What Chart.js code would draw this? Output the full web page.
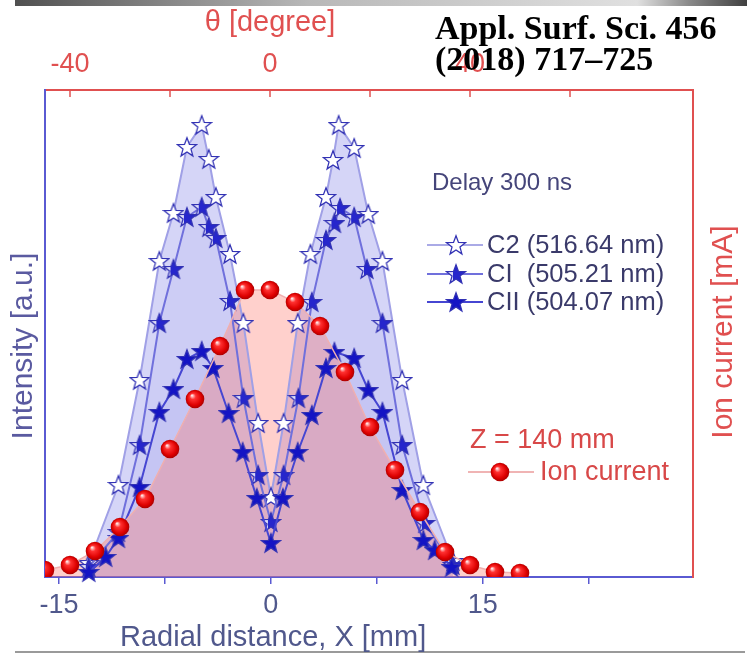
<!DOCTYPE html>
<html>
<head>
<meta charset="utf-8">
<title>Delay 300 ns - C2 / CI / CII and ion current</title>
<script src="https://cdn.jsdelivr.net/npm/chart.js"></script>
<style>
    body { margin: 0; background: #fff; }
</style>
</head>
<body>
<canvas id="myChart" width="747" height="661"></canvas>
<script>
// values: radial distance in mm, intensity in a.u.
var c2X  = [-12.9, -10.8, -9.3, -7.9, -6.9, -5.95, -4.9, -4.4, -3.9, -2.9, -1.95, -0.9, 0, 0.9, 1.9, 2.8, 3.9, 4.4, 4.8, 5.9, 6.9, 7.9, 9.3, 10.8, 12.9];
var c2Y  = [14, 92, 197, 316, 364, 430, 452, 418, 380, 323, 254, 154, 80, 154, 254, 323, 380, 417, 452, 429, 363, 316, 197, 92, 16];

var ciX  = [-12.9, -10.8, -9.3, -7.9, -6.9, -5.95, -4.9, -4.4, -3.9, -2.9, -1.95, -0.9, 0, 0.9, 1.95, 2.9, 3.9, 4.5, 4.9, 5.9, 6.8, 7.9, 9.3, 10.9, 12.9];
var ciY  = [10, 45, 132, 254, 308, 360, 370, 350, 339, 276, 179, 102, 55, 102, 179, 275, 337, 354, 369, 360, 308, 254, 132, 54, 12];

var ciiX = [-12.9, -11.7, -10.8, -9.3, -7.9, -6.9, -5.95, -4.9, -4.1, -3.0, -2.0, -1.0, 0, 0.85, 1.9, 2.9, 3.9, 4.5, 5.9, 6.9, 7.9, 9.3, 10.8, 11.6, 12.8];
var ciiY = [5, 20, 39, 90, 165, 188, 218, 226, 209, 164, 125, 79, 34, 79, 125, 162, 209, 225, 219, 187, 165, 87, 37, 27, 10];

// ion current, plotted against the angle theta in degree (top axis)
var ionTheta = [-45, -40, -35, -30, -25, -20, -15, -10, -5, 0, 5, 10, 15, 20, 25, 30, 35, 40, 45, 50];
var ionY     = [7, 12, 26, 50, 78, 128, 178, 231, 287, 287, 275, 251, 205, 150, 107, 65, 25, 12, 5, 4];

var xTicks      = [-15, -7.5, 0, 7.5, 15, 22.5];
var xLabels     = [-15, 0, 15];
var thetaTicks  = [-40, -20, 0, 20, 40, 60];
var thetaLabels = [-40, 0, 40];

var BLUE = '#5a5ad2';
var RED  = '#e05050';

function pts(xs, ys) {
    return xs.map(function (x, i) { return { x: x, y: ys[i] }; });
}

function starPath(g, cx, cy, R, r) {
    g.beginPath();
    for (var i = 0; i < 10; i++) {
        var a = -Math.PI / 2 + i * Math.PI / 5;
        var rad = (i % 2) ? r : R;
        g.lineTo(cx + rad * Math.cos(a), cy + rad * Math.sin(a));
    }
    g.closePath();
}

function makeStar(kind) {
    var c = document.createElement('canvas');
    c.width = 22; c.height = 22;
    var g = c.getContext('2d');
    starPath(g, 11, 11.8, 10, 4.2);
    if (kind === 'open') {
        g.fillStyle = '#ffffff';
        g.fill();
    } else if (kind === 'half') {
        g.fillStyle = '#2626cc';
        g.fill();
        g.save();
        g.clip();
        g.fillStyle = 'rgba(255,255,255,0.85)';
        g.fillRect(0, 0, 8, 22);
        g.restore();
    } else {
        g.fillStyle = '#1414c4';
        g.fill();
    }
    starPath(g, 11, 11.8, 10, 4.2);
    g.lineWidth = 1.3;
    g.strokeStyle = '#3232b4';
    g.stroke();
    return c;
}

function makeBall() {
    var c = document.createElement('canvas');
    c.width = 20; c.height = 20;
    var g = c.getContext('2d');
    var grad = g.createRadialGradient(7, 6.5, 0.5, 10, 10, 9.5);
    grad.addColorStop(0, '#ffe0e0');
    grad.addColorStop(0.28, '#ff3030');
    grad.addColorStop(0.75, '#dd0000');
    grad.addColorStop(1, '#a80000');
    g.fillStyle = grad;
    g.beginPath();
    g.arc(10, 10, 9.3, 0, 2 * Math.PI);
    g.fill();
    return c;
}

var starOpen = makeStar('open');
var starHalf = makeStar('half');
var starFull = makeStar('full');
var ball = makeBall();

// titles, legend boxes, inward top ticks and the citation
var decor = {
    id: 'decor',
    beforeDraw: function (chart) {
        var ctx = chart.ctx;
        ctx.save();
        var gr = ctx.createLinearGradient(15, 0, 747, 0);
        gr.addColorStop(0, '#505050');
        gr.addColorStop(0.4, '#b8b8b8');
        gr.addColorStop(0.85, '#e0e0e0');
        gr.addColorStop(0.92, '#8a8a8a');
        gr.addColorStop(1, '#404040');
        ctx.fillStyle = gr;
        ctx.fillRect(15, 0, 732, 6);
        ctx.fillStyle = '#9a9a9a';
        ctx.fillRect(15, 651, 730, 2);
        ctx.restore();
    },
    afterDraw: function (chart) {
        var ctx = chart.ctx;
        var area = chart.chartArea;
        var top = chart.scales.xTop;
        ctx.save();

        ctx.strokeStyle = RED;
        ctx.lineWidth = 1.5;
        thetaTicks.forEach(function (t) {
            var px = top.getPixelForValue(t);
            ctx.beginPath();
            ctx.moveTo(px, area.top);
            ctx.lineTo(px, area.top + 7);
            ctx.stroke();
        });

        ctx.textBaseline = 'alphabetic';
        ctx.font = '29px "Liberation Sans", Arial, sans-serif';
        ctx.fillStyle = RED;
        ctx.textAlign = 'center';
        ctx.fillText('\u03b8 [degree]', 270, 31);

        ctx.fillStyle = '#50588c';
        ctx.textAlign = 'left';
        ctx.fillText('Radial distance, X [mm]', 120, 646);

        ctx.font = '30px "Liberation Sans", Arial, sans-serif';
        ctx.textAlign = 'center';
        ctx.save();
        ctx.translate(32, 346);
        ctx.rotate(-Math.PI / 2);
        ctx.fillStyle = '#5a5aa0';
        ctx.fillText('Intensity [a.u.]', 0, 0);
        ctx.restore();
        ctx.save();
        ctx.translate(732, 332);
        ctx.rotate(-Math.PI / 2);
        ctx.fillStyle = RED;
        ctx.fillText('Ion current [mA]', 0, 0);
        ctx.restore();

        // legend for the emission lines
        ctx.textAlign = 'left';
        ctx.font = '24px "Liberation Sans", Arial, sans-serif';
        ctx.fillStyle = '#45457a';
        ctx.fillText('Delay 300 ns', 432, 190);

        var rows = [
            { y: 245, color: '#aaaae6', img: starOpen, text: 'C2 (516.64 nm)' },
            { y: 274, color: '#7070dc', img: starHalf, text: 'CI  (505.21 nm)' },
            { y: 302, color: '#4646d2', img: starFull, text: 'CII (504.07 nm)' }
        ];
        ctx.font = '25.5px "Liberation Sans", Arial, sans-serif';
        ctx.textBaseline = 'middle';
        rows.forEach(function (r) {
            ctx.strokeStyle = r.color;
            ctx.lineWidth = 2;
            ctx.beginPath();
            ctx.moveTo(427, r.y);
            ctx.lineTo(483, r.y);
            ctx.stroke();
            ctx.drawImage(r.img, 456 - 11, r.y - 11);
            ctx.fillStyle = '#3a3a6a';
            ctx.fillText(r.text, 487, r.y + 1);
        });

        // legend for the ion current
        ctx.font = '27px "Liberation Sans", Arial, sans-serif';
        ctx.fillStyle = '#d84848';
        ctx.textBaseline = 'alphabetic';
        ctx.fillText('Z = 140 mm', 470, 448);
        ctx.strokeStyle = '#f0b4b4';
        ctx.lineWidth = 2;
        ctx.beginPath();
        ctx.moveTo(468, 472);
        ctx.lineTo(534, 472);
        ctx.stroke();
        ctx.drawImage(ball, 490, 462);
        ctx.textBaseline = 'middle';
        ctx.fillStyle = '#d84848';
        ctx.fillText('Ion current', 540, 473);

        // citation
        ctx.textBaseline = 'alphabetic';
        ctx.fillStyle = '#000000';
        ctx.font = 'bold 34px "Liberation Serif", "Times New Roman", serif';
        ctx.fillText('Appl. Surf. Sci. 456', 435, 39);
        ctx.fillText('(2018) 717\u2013725', 435, 70);
        ctx.restore();
    }
};

Chart.defaults.font.family = '"Liberation Sans", Arial, sans-serif';

var ctx = document.getElementById('myChart').getContext('2d');
var myChart = new Chart(ctx, {
    type: 'line',
    data: {
        datasets: [{
            label: 'Ion current',
            data: pts(ionTheta, ionY),
            xAxisID: 'xTop',
            yAxisID: 'yRight',
            borderColor: '#f0b0b0',
            borderWidth: 1.5,
            backgroundColor: 'rgba(255,120,110,0.35)',
            fill: 'origin',
            pointStyle: ball,
            clip: 0
        }, {
            label: 'CII (504.07 nm)',
            data: pts(ciiX, ciiY),
            xAxisID: 'x',
            yAxisID: 'y',
            borderColor: '#4646d2',
            borderWidth: 2,
            backgroundColor: 'rgba(100,100,225,0.07)',
            fill: 'origin',
            pointStyle: starFull,
            clip: 12
        }, {
            label: 'CI (505.21 nm)',
            data: pts(ciX, ciY),
            xAxisID: 'x',
            yAxisID: 'y',
            borderColor: '#7070dc',
            borderWidth: 2,
            backgroundColor: 'rgba(100,100,225,0.07)',
            fill: 'origin',
            pointStyle: starHalf,
            clip: 12
        }, {
            label: 'C2 (516.64 nm)',
            data: pts(c2X, c2Y),
            xAxisID: 'x',
            yAxisID: 'y',
            borderColor: '#a0a0e6',
            borderWidth: 2,
            backgroundColor: 'rgba(100,100,225,0.27)',
            fill: 'origin',
            pointStyle: starOpen,
            clip: 12
        }]
    },
    options: {
        responsive: false,
        animation: false,
        events: [],
        layout: { padding: 0 },
        elements: { line: { tension: 0 } },
        plugins: {
            legend: { display: false },
            tooltip: { enabled: false },
            filler: { drawTime: 'beforeDatasetsDraw' }
        },
        scales: {
            x: {
                type: 'linear',
                position: 'bottom',
                min: -16,
                max: 29.9,
                afterBuildTicks: function (axis) {
                    axis.ticks = xTicks.map(function (v) { return { value: v }; });
                },
                afterFit: function (s) { s.height = 84; },
                ticks: {
                    padding: 5,
                    maxRotation: 0,
                    autoSkip: false,
                    color: '#50588c',
                    font: { size: 27 },
                    callback: function (v) { return xLabels.indexOf(v) >= 0 ? String(v) : ''; }
                },
                grid: { drawOnChartArea: false, tickLength: 7, color: BLUE, lineWidth: 1.5 },
                border: { color: BLUE, width: 2 }
            },
            xTop: {
                type: 'linear',
                position: 'top',
                min: -45,
                max: 84.6,
                afterBuildTicks: function (axis) {
                    axis.ticks = thetaTicks.map(function (v) { return { value: v }; });
                },
                afterFit: function (s) { s.height = 90; },
                ticks: {
                    padding: 9,
                    maxRotation: 0,
                    autoSkip: false,
                    color: RED,
                    font: { size: 27 },
                    callback: function (v) { return thetaLabels.indexOf(v) >= 0 ? String(v) : ''; }
                },
                grid: { display: false, drawTicks: false },
                border: { color: RED, width: 2 }
            },
            y: {
                position: 'left',
                min: 0,
                max: 487,
                afterFit: function (s) { s.width = 45; },
                ticks: { display: false },
                grid: { display: false, drawTicks: false },
                border: { color: BLUE, width: 2 }
            },
            yRight: {
                position: 'right',
                min: 0,
                max: 487,
                afterFit: function (s) { s.width = 54; },
                ticks: { display: false },
                grid: { display: false, drawTicks: false },
                border: { color: RED, width: 2 }
            }
        }
    },
    plugins: [decor]
});
</script>
</body>
</html>
